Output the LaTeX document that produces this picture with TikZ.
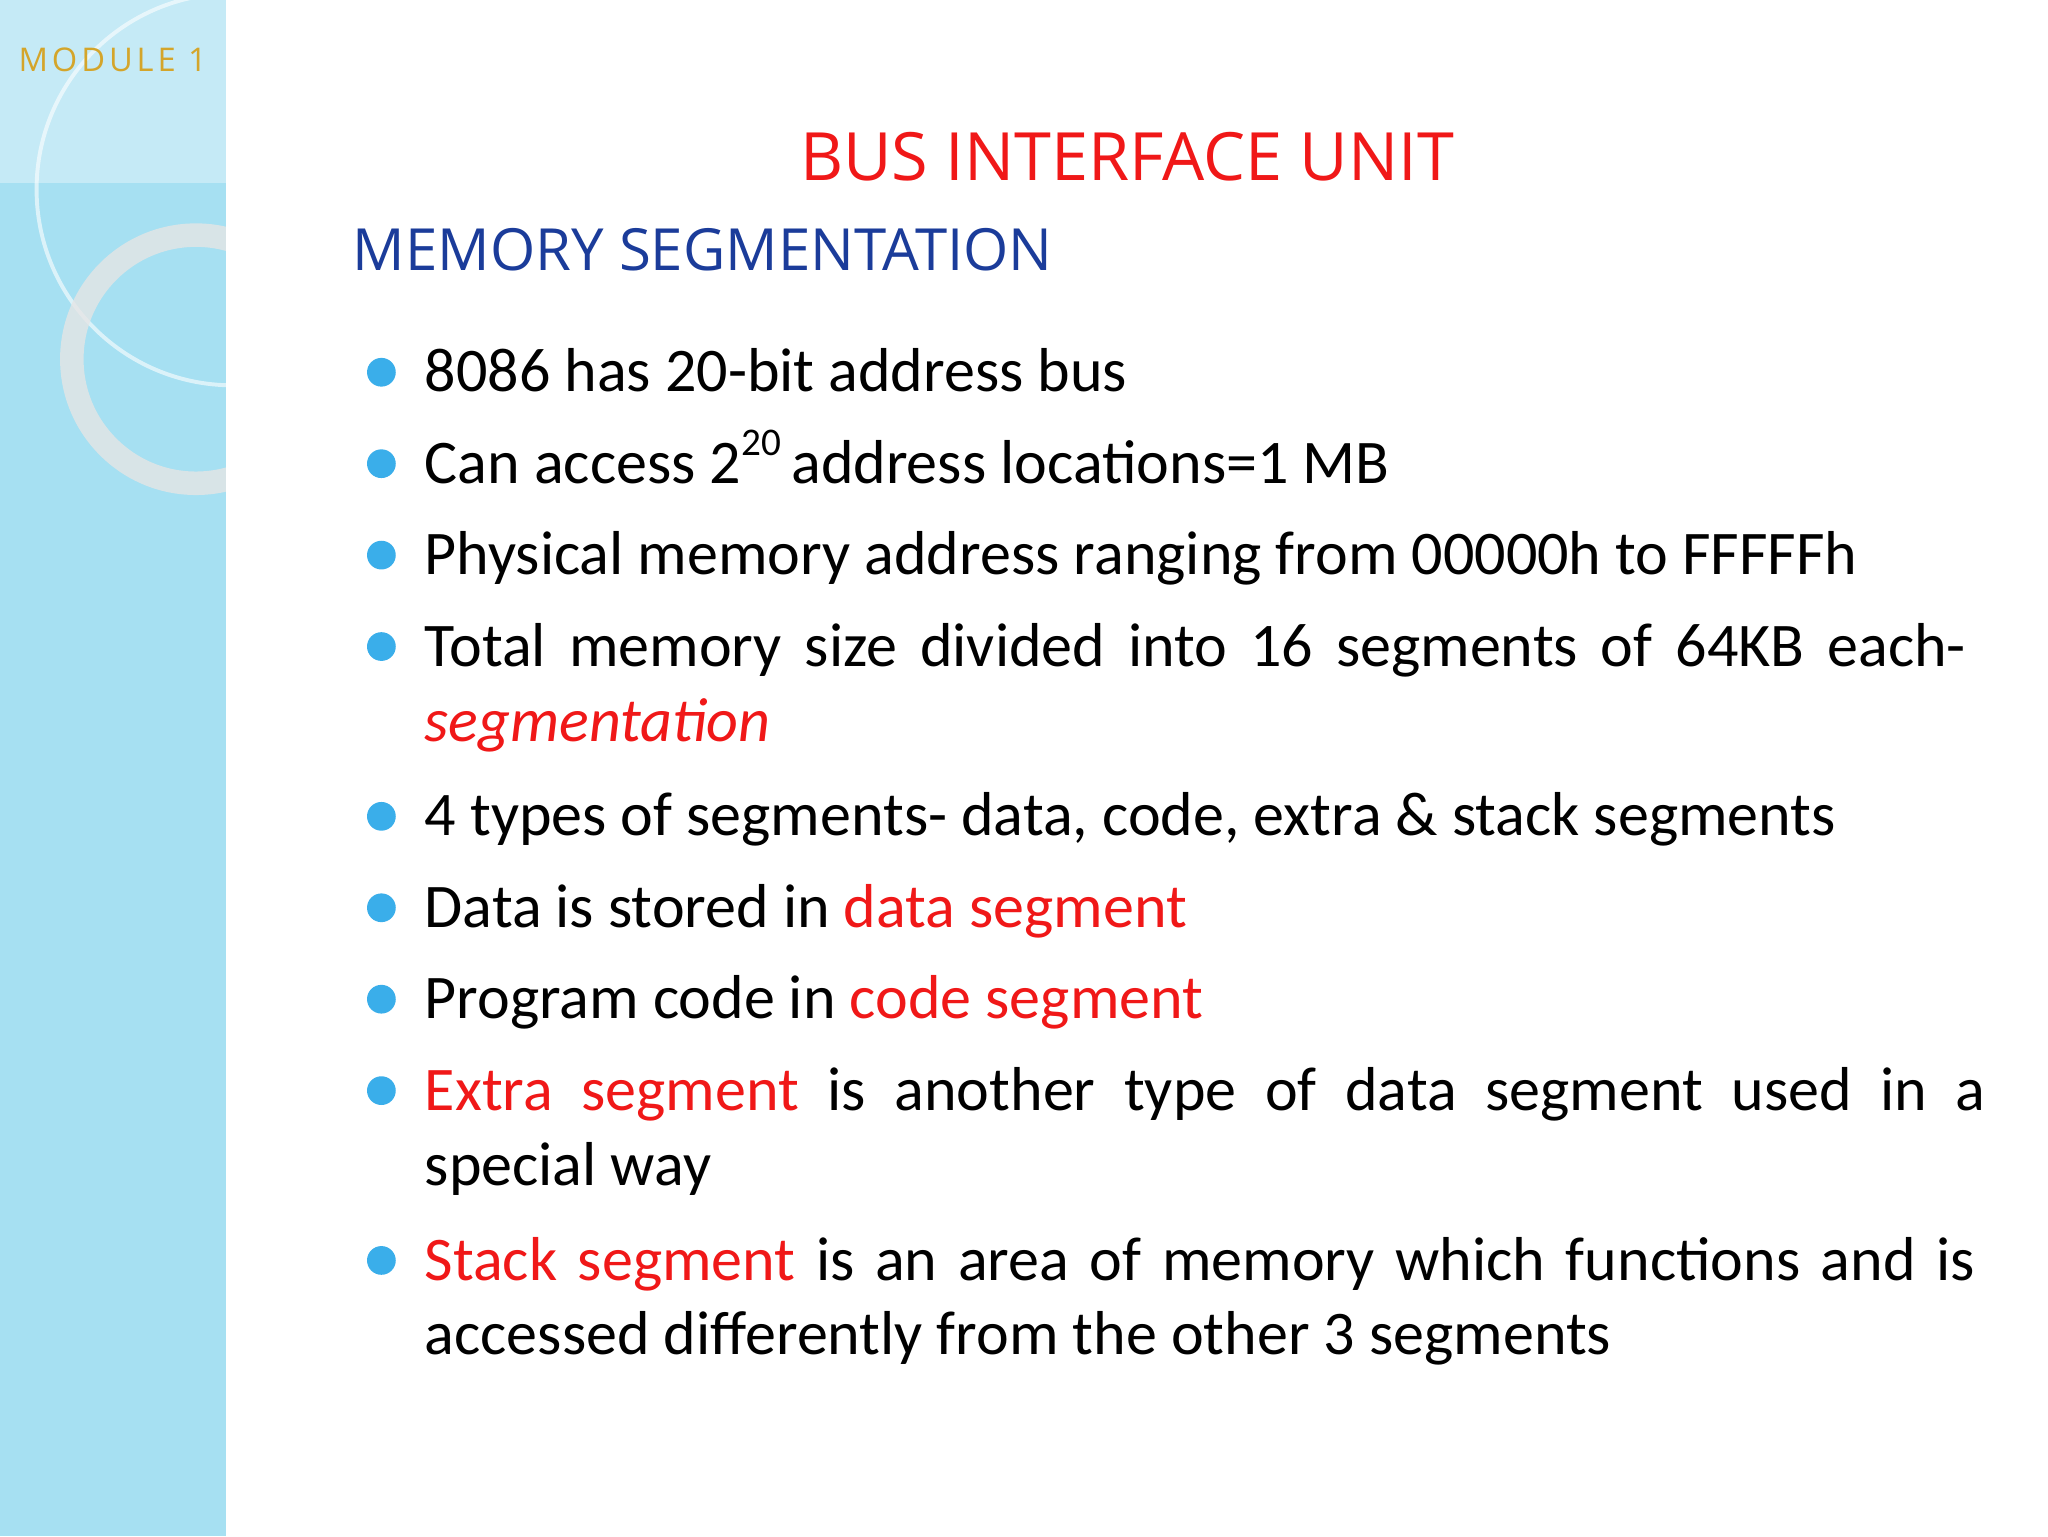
\documentclass[tikz,border=0pt]{standalone}
\usepackage{fontspec}
\setmainfont{Carlito}
\newfontfamily\hd{Open Sans}
\definecolor{band}{HTML}{A6E0F2}
\definecolor{bul}{HTML}{3AAEEA}
\definecolor{navy}{HTML}{1B3C9A}
\definecolor{gold}{HTML}{D4A52A}
\definecolor{rd}{HTML}{F01818}
\begin{document}
\begin{tikzpicture}[x=1pt,y=-1pt,
  txt/.style={anchor=base west,inner sep=0pt,font=\fontsize{47.5}{52}\selectfont},
  dot/.style={circle,fill=bul,minimum size=22pt,inner sep=0pt}]
\useasboundingbox (0,0) rectangle (1568,1176);
\fill[white] (0,0) rectangle (1568,1176);
\fill[band] (0,0) rectangle (173,1176);
\fill[white,opacity=0.35] (0,0) rectangle (173,140);
\begin{scope}
\clip (0,0) rectangle (173,1176);
\draw[white,opacity=0.6,line width=3pt] (178,145) circle (150);
\draw[gray!20,opacity=0.8,line width=18pt] (150,275) circle (95);
\end{scope}
\node[anchor=base west,inner sep=0pt,text=gold,font=\hd\fontsize{25}{28}\selectfont] (mod) at (14,55) {M\kern3pt O\kern3pt D\kern3pt U\kern3pt L\kern3pt E\kern3pt\ 1};
\node[anchor=base,inner sep=0pt,text=rd,font=\hd\fontsize{51}{56}\selectfont] (title) at (863,138) {BUS INTERFACE UNIT};
\node[anchor=base west,inner sep=0pt,text=navy,font=\hd\fontsize{44.5}{48}\selectfont] (sub) at (270,207) {MEMORY SEGMENTATION};
\foreach \y in {285,355,425,495,625,695,765,835,965} \node[dot] at (292,\y) {};
\node[txt] (l1) at (325,300) {8086 has 20-bit address bus};
\node[txt] (l2) at (325,370) {Can access 2\raisebox{0.45em}{\fontsize{30}{30}\selectfont 20}\,address locations=1 MB};
\node[txt] (l3) at (325,440) {Physical memory address ranging from 00000h to FFFFFh};
\node[txt] (l4) at (325,510) {\makebox[1180pt][s]{Total memory size divided into 16 segments of 64KB each-}};
\node[txt,text=rd] (l4b) at (325,568) {\itshape segmentation};
\node[txt] (l5) at (325,640) {4 types of segments- data, code, extra \& stack segments};
\node[txt] (l6) at (325,710) {Data is stored in \textcolor{rd}{data segment}};
\node[txt] (l7) at (325,780) {Program code in \textcolor{rd}{code segment}};
\node[txt] (l8) at (325,850) {\makebox[1195pt][s]{\textcolor{rd}{Extra segment} is another type of data segment used in a}};
\node[txt] (l8b) at (325,908) {special way};
\node[txt] (l9) at (325,980) {\makebox[1187pt][s]{\textcolor{rd}{Stack segment} is an area of memory which functions and is}};
\node[txt] (l9b) at (325,1037) {accessed differently from the other 3 segments};
\end{tikzpicture}
\end{document}
